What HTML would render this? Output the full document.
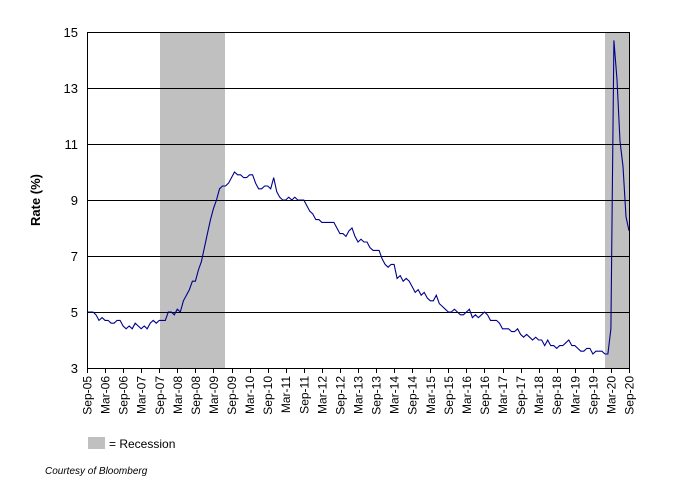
<!DOCTYPE html>
<html><head><style>
body{margin:0;background:#fff;}
svg{display:block;font-family:"Liberation Sans",Arial,sans-serif;}
</style></head><body>
<svg id="s" width="691" height="501" xmlns="http://www.w3.org/2000/svg">
<rect x="160" y="32" width="65" height="336" fill="#c0c0c0"/>
<rect x="605" y="32" width="24" height="336" fill="#c0c0c0"/>
<g stroke="#000" stroke-width="1">
<line x1="87" y1="32.5" x2="629" y2="32.5"/>
<line x1="87" y1="88.5" x2="629" y2="88.5"/>
<line x1="87" y1="144.5" x2="629" y2="144.5"/>
<line x1="87" y1="200.5" x2="629" y2="200.5"/>
<line x1="87" y1="256.5" x2="629" y2="256.5"/>
<line x1="87" y1="312.5" x2="629" y2="312.5"/>
<line x1="87" y1="368.5" x2="629" y2="368.5"/>
<line x1="87.5" y1="32" x2="87.5" y2="369"/>
<line x1="629.5" y1="32" x2="629.5" y2="369"/>
</g>
<g font-size="13" text-anchor="end">
<text x="78" y="37">15</text><text x="78" y="93">13</text><text x="78" y="149">11</text>
<text x="78" y="205">9</text><text x="78" y="261">7</text><text x="78" y="317">5</text><text x="78" y="373">3</text>
</g>
<text x="0" y="0" font-size="13" font-weight="bold" text-anchor="middle" transform="translate(40,200) rotate(-90)">Rate (%)</text>
<g id="xt"></g>
<polyline id="ln" fill="none" stroke="#00008b" stroke-width="1.1"/>
<rect x="88" y="437" width="17" height="12" fill="#c0c0c0"/>
<text x="109" y="448" font-size="12">= Recession</text>
<text x="45" y="474" font-size="10" font-style="italic">Courtesy of Bloomberg</text>
</svg>
<script>
var d=[5.0,5.0,5.0,4.9,
4.7,4.8,4.7,4.7,4.6,4.6,4.7,4.7,4.5,4.4,4.5,4.4,
4.6,4.5,4.4,4.5,4.4,4.6,4.7,4.6,4.7,4.7,4.7,5.0,
5.0,4.9,5.1,5.0,5.4,5.6,5.8,6.1,6.1,6.5,6.8,7.3,
7.8,8.3,8.7,9.0,9.4,9.5,9.5,9.6,9.8,10.0,9.9,9.9,
9.8,9.8,9.9,9.9,9.6,9.4,9.4,9.5,9.5,9.4,9.8,9.3,
9.1,9.0,9.0,9.1,9.0,9.1,9.0,9.0,9.0,8.8,8.6,8.5,
8.3,8.3,8.2,8.2,8.2,8.2,8.2,8.0,7.8,7.8,7.7,7.9,
8.0,7.7,7.5,7.6,7.5,7.5,7.3,7.2,7.2,7.2,6.9,6.7,
6.6,6.7,6.7,6.2,6.3,6.1,6.2,6.1,5.9,5.7,5.8,5.6,
5.7,5.5,5.4,5.4,5.6,5.3,5.2,5.1,5.0,5.0,5.1,5.0,
4.9,4.9,5.0,5.1,4.8,4.9,4.8,4.9,5.0,4.9,4.7,4.7,
4.7,4.6,4.4,4.4,4.4,4.3,4.3,4.4,4.2,4.1,4.2,4.1,
4.0,4.1,4.0,4.0,3.8,4.0,3.8,3.8,3.7,3.8,3.8,3.9,
4.0,3.8,3.8,3.7,3.6,3.6,3.7,3.7,3.5,3.6,3.6,3.6,
3.5,3.5,4.4,14.7,13.3,11.1,10.2,8.4,7.9];
var px=function(i){return 87+i*542/180;};
var pts=d.map(function(v,i){return px(i).toFixed(1)+","+(368-(v-3)*28).toFixed(1);}).join(" ");
document.getElementById("ln").setAttribute("points",pts);
var g=document.getElementById("xt"),h="";
for(var k=0;k<=30;k++){
 var x=px(k*6);var yr=5+Math.floor((k+1)/2);
 var lab=(k%2==0?"Sep-":"Mar-")+(yr<10?"0":"")+yr;
 h+='<line x1="'+(Math.round(x)+0.5)+'" y1="368" x2="'+(Math.round(x)+0.5)+'" y2="373" stroke="#000"/>';
 h+='<text font-size="12" text-anchor="end" transform="translate('+(x+4.5)+',376) rotate(-90)">'+lab+'</text>';
}
g.innerHTML=h;
</script>
</body></html>
